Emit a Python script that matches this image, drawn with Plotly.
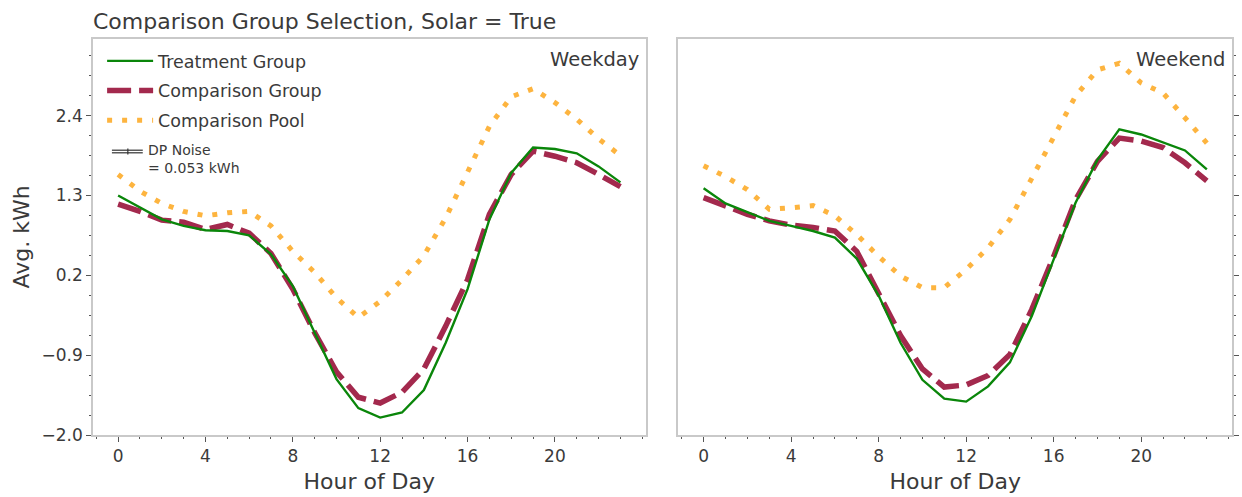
import plotly.graph_objects as go

hours = list(range(24))
hour_ticks = [0, 4, 8, 12, 16, 20]

weekday_treatment = [1.30, 1.13, 0.97, 0.88, 0.82, 0.81, 0.75, 0.49, 0.05, -0.59, -1.23, -1.63,
                     -1.76, -1.69, -1.38, -0.73, 0.01, 0.97, 1.61, 1.96, 1.94, 1.88, 1.70, 1.48]
weekday_comparison = [1.18, 1.08, 0.96, 0.93, 0.83, 0.90, 0.78, 0.50, 0.01, -0.59, -1.13, -1.48,
                      -1.56, -1.41, -1.09, -0.50, 0.14, 1.04, 1.59, 1.91, 1.84, 1.75, 1.59, 1.42]
weekday_pool = [1.59, 1.36, 1.19, 1.08, 1.02, 1.06, 1.08, 0.88, 0.53, 0.24, -0.11, -0.38,
                -0.16, 0.14, 0.47, 0.99, 1.62, 2.25, 2.66, 2.77, 2.58, 2.35, 2.08, 1.85]

weekend_treatment = [1.40, 1.19, 1.07, 0.95, 0.88, 0.81, 0.72, 0.43, -0.08, -0.73, -1.24, -1.50,
                     -1.54, -1.33, -1.00, -0.36, 0.42, 1.20, 1.79, 2.21, 2.14, 2.03, 1.92, 1.66]
weekend_comparison = [1.27, 1.15, 1.04, 0.95, 0.89, 0.86, 0.81, 0.53, -0.04, -0.63, -1.09, -1.34,
                      -1.31, -1.18, -0.89, -0.27, 0.46, 1.24, 1.77, 2.09, 2.05, 1.96, 1.75, 1.50]
weekend_pool = [1.71, 1.56, 1.38, 1.11, 1.13, 1.16, 1.02, 0.76, 0.46, 0.19, 0.03, 0.03,
                0.28, 0.58, 0.97, 1.54, 2.11, 2.67, 3.03, 3.12, 2.85, 2.71, 2.37, 2.02]

series_names = ["Treatment Group", "Comparison Group", "Comparison Pool"]
panel_labels = ["Weekday", "Weekend"]
title_text = "Comparison Group Selection, Solar = True"
noise_text = "DP Noise<br>= 0.053 kWh"

GREEN = "#0a860a"
MAROON = "#a3294d"
ORANGE = "#fdb43f"
styles = [
    dict(color=GREEN, width=2.4, dash="solid"),
    dict(color=MAROON, width=5.5, dash="24px,8px"),
    dict(color=ORANGE, width=5, dash="5px,10px"),
]

fig = go.Figure()
panels = [
    ("x", "y", [weekday_treatment, weekday_comparison, weekday_pool], True),
    ("x2", "y2", [weekend_treatment, weekend_comparison, weekend_pool], False),
]
for xa, ya, data, show in panels:
    for idx in [2, 1, 0]:
        fig.add_trace(go.Scatter(
            x=hours, y=data[idx], mode="lines", name=series_names[idx],
            line=styles[idx], xaxis=xa, yaxis=ya, showlegend=show,
            legendgroup=series_names[idx], legendrank=idx + 1,
        ))

TXT = "#3a3a3a"
SPINE = "#c9c9c9"
TICK = "#555555"
FONT = "DejaVu Sans"

xcommon = dict(
    range=[-1.15, 24.15], tickmode="array", tickvals=hour_ticks,
    ticks="outside", ticklen=5, tickwidth=1, tickcolor=TICK,
    minor=dict(tickmode="linear", tick0=0, dtick=1, ticks="outside", ticklen=2.5, tickcolor=TICK),
    showline=True, linecolor=SPINE, linewidth=1.5, mirror=True,
    showgrid=False, zeroline=False,
    tickfont=dict(size=17, color=TXT, family=FONT),
    title=dict(text="Hour of Day", font=dict(size=22, color=TXT, family=FONT), standoff=8),
)
ycommon = dict(
    range=[-2.0, 3.455], tickmode="linear", tick0=-2.0, dtick=1.1, tickformat=".1f",
    ticks="outside", ticklen=5, tickwidth=1, tickcolor=TICK,
    minor=dict(tickmode="linear", tick0=-2.0, dtick=0.275, ticks="outside", ticklen=2.5, tickcolor=TICK),
    showline=True, linecolor=SPINE, linewidth=1.5, mirror=True,
    showgrid=False, zeroline=False,
    tickfont=dict(size=17, color=TXT, family=FONT),
)

fig.update_layout(
    width=1242, height=497,
    margin=dict(l=93, r=5, t=39, b=62),
    paper_bgcolor="white", plot_bgcolor="white",
    font=dict(family=FONT, color=TXT),
    title=dict(text=title_text, x=0, xref="paper", xanchor="left",
               y=1 - 21 / 497, yref="container", yanchor="middle",
               font=dict(size=22, color=TXT, family=FONT)),
    xaxis=dict(domain=[0, 0.4851], anchor="y", **xcommon),
    xaxis2=dict(domain=[0.514, 1.0], anchor="y2", **xcommon),
    yaxis=dict(domain=[0, 1], anchor="x", side="left",
               title=dict(text="Avg. kWh", font=dict(size=22, color=TXT, family=FONT), standoff=6),
               **ycommon),
    yaxis2=dict(domain=[0, 1], anchor="x2", side="right", matches="y", showticklabels=False,
                **ycommon),
    legend=dict(x=0.008, y=0.99, xanchor="left", yanchor="top",
                bgcolor="rgba(0,0,0,0)", tracegroupgap=4, traceorder="grouped",
                font=dict(size=17.5, color=TXT, family=FONT), itemwidth=46),
    showlegend=True,
)

for i, lab in enumerate(panel_labels):
    sfx = "" if i == 0 else "2"
    fig.add_annotation(text=lab, x=1, y=1, xref=f"x{sfx} domain", yref=f"y{sfx} domain",
                       xanchor="right", yanchor="top", xshift=-5, yshift=-7, showarrow=False,
                       font=dict(size=19.5, color=TXT, family=FONT))

# DP noise legend note (errorbar-style handle)
fig.add_annotation(text=noise_text, x=0, y=1, xref="x domain", yref="y domain",
                   xanchor="left", yanchor="top", xshift=53, yshift=-101, showarrow=False,
                   align="left", font=dict(size=14, color=TXT, family=FONT))
hx0, hx1 = 19 / 555, 50 / 555
for dy in (-1.3, 1.3):
    fig.add_shape(type="line", xref="x domain", yref="y domain",
                  x0=hx0, x1=hx1, y0=1 - (112.5 + dy) / 396, y1=1 - (112.5 + dy) / 396,
                  line=dict(color="#333333", width=1.2))
fig.add_shape(type="line", xref="x domain", yref="y domain",
              x0=35 / 555, x1=35 / 555, y0=1 - 109.5 / 396, y1=1 - 115.5 / 396,
              line=dict(color="#333333", width=1.2))

fig.write_html("out.html")
